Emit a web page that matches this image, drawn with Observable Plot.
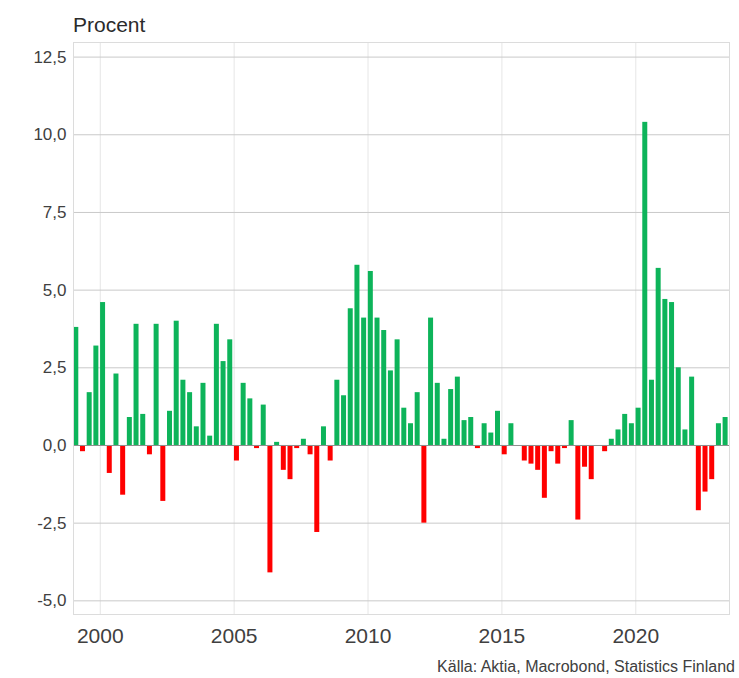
<!DOCTYPE html>
<html><head><meta charset="utf-8">
<script src="https://cdn.jsdelivr.net/npm/d3@7"></script>
<script src="https://cdn.jsdelivr.net/npm/@observablehq/plot@0.6"></script>
<style>
body{margin:0;background:#fff;font-family:"Liberation Sans",Arial,sans-serif;}
#wrap{position:relative;width:739px;height:678px;overflow:hidden;background:#fff;}
#chart{position:absolute;left:0;top:0;}
#unit{position:absolute;left:73px;top:14px;font-size:21px;line-height:21px;color:#2b2b2b;}
#src{position:absolute;right:4px;top:659px;font-size:16px;line-height:16px;color:#404040;white-space:nowrap;}
</style></head><body>
<div id="wrap"><div id="chart"></div><div id="unit">Procent</div><div id="src">Källa: Aktia, Macrobond, Statistics Finland</div></div>
<script>
// Quarterly values, 1999 Q1 .. 2023 Q2 (percent)
const startYear = 1999;
const values = [
  3.8, -0.2, 1.7, 3.2,   // 1999
  4.6, -0.9, 2.3, -1.6,  // 2000
  0.9, 3.9, 1.0, -0.3,   // 2001
  3.9, -1.8, 1.1, 4.0,   // 2002
  2.1, 1.7, 0.6, 2.0,    // 2003
  0.3, 3.9, 2.7, 3.4,    // 2004
  -0.5, 2.0, 1.5, -0.1,  // 2005
  1.3, -4.1, 0.1, -0.8,  // 2006
  -1.1, -0.1, 0.2, -0.3, // 2007
  -2.8, 0.6, -0.5, 2.1,  // 2008
  1.6, 4.4, 5.8, 4.1,    // 2009
  5.6, 4.1, 3.7, 2.4,    // 2010
  3.4, 1.2, 0.7, 1.7,    // 2011
  -2.5, 4.1, 2.0, 0.2,   // 2012
  1.8, 2.2, 0.8, 0.9,    // 2013
  -0.1, 0.7, 0.4, 1.1,   // 2014
  -0.3, 0.7, 0.0, -0.5,  // 2015
  -0.6, -0.8, -1.7, -0.2,// 2016
  -0.6, -0.1, 0.8, -2.4, // 2017
  -0.7, -1.1, 0.0, -0.2, // 2018
  0.2, 0.5, 1.0, 0.7,    // 2019
  1.2, 10.4, 2.1, 5.7,   // 2020
  4.7, 4.6, 2.5, 0.5,    // 2021
  2.2, -2.1, -1.5, -1.1, // 2022
  0.7, 0.9               // 2023
];
const xTicks = [2000, 2005, 2010, 2015, 2020];
const yTicks = [-5, -2.5, 0, 2.5, 5, 7.5, 10, 12.5];

const data = values.map((v, i) => ({t: startYear + i * 0.25, value: v}));
const fmt = d => d.toFixed(1).replace(".", ",");

const chart = Plot.plot({
  width: 739,
  height: 678,
  marginTop: 42,
  marginBottom: 64,
  marginLeft: 73,
  marginRight: 10,
  style: {fontFamily: "'Liberation Sans', Arial, sans-serif", color: "#404040", background: "#fff"},
  x: {domain: [1999, 2023.5], label: null},
  y: {domain: [-5.44, 12.97], label: null},
  marks: [
    Plot.gridX(xTicks, {stroke: "#e6e6e6", strokeOpacity: 1}),
    Plot.gridY(yTicks, {stroke: "#c9c9c9", strokeOpacity: 1}),
    Plot.rect(data, {
      x1: "t", x2: d => d.t + 0.25, y1: 0, y2: "value",
      fill: d => d.value >= 0 ? "#0db45a" : "#ff0000",
      insetLeft: 0.3, insetRight: 1.4
    }),
    Plot.ruleY([0], {stroke: "#8f8f8f", strokeWidth: 1.2}),
    Plot.frame({stroke: "#dcdcdc"}),
    Plot.axisX(xTicks, {tickSize: 0, tickPadding: 14, fontSize: 21, tickFormat: d => String(d), label: null}),
    Plot.axisY(yTicks, {tickSize: 0, tickPadding: 7, fontSize: 17, tickFormat: fmt, label: null})
  ]
});
document.getElementById("chart").appendChild(chart);
</script>
</body></html>
